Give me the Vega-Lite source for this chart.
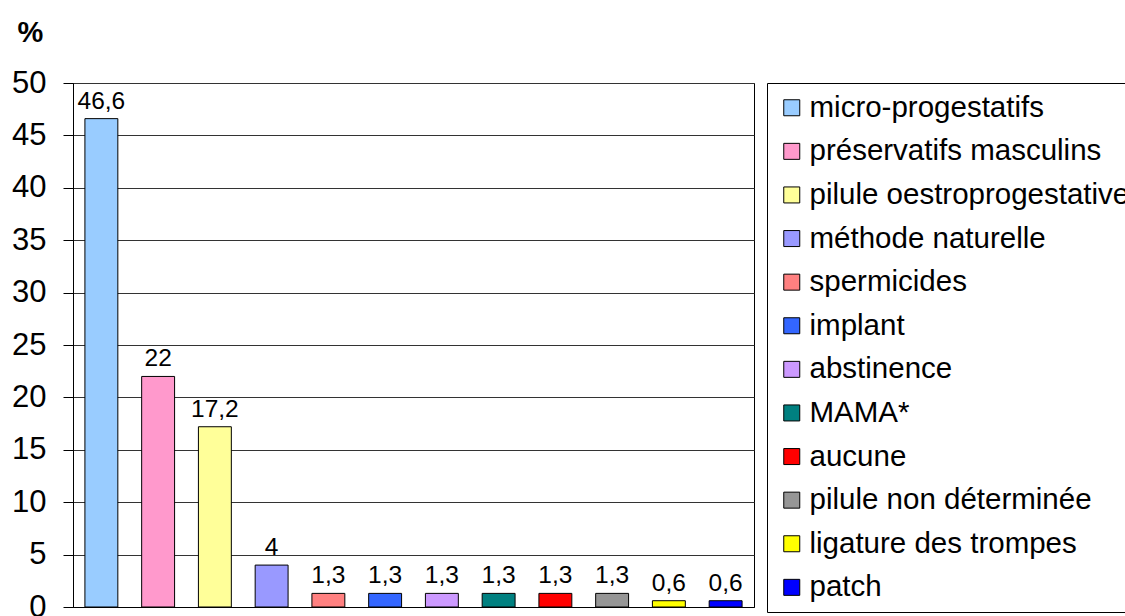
{
  "$schema": "https://vega.github.io/schema/vega-lite/v6.json",
  "autosize": "none",
  "width": 681,
  "height": 524,
  "padding": {"left": 73, "top": 83, "right": 371, "bottom": 9},
  "background": "white",
  "config": {
    "font": "Liberation Sans",
    "view": {"stroke": "black", "strokeWidth": 1},
    "locale": {"number": {"decimal": ",", "thousands": " ", "grouping": [3], "currency": ["", " €"]}}
  },
  "data": {
    "values": [
      {"methode": "micro-progestatifs", "pct": 46.6},
      {"methode": "préservatifs masculins", "pct": 22},
      {"methode": "pilule oestroprogestative", "pct": 17.2},
      {"methode": "méthode naturelle", "pct": 4},
      {"methode": "spermicides", "pct": 1.3},
      {"methode": "implant", "pct": 1.3},
      {"methode": "abstinence", "pct": 1.3},
      {"methode": "MAMA*", "pct": 1.3},
      {"methode": "aucune", "pct": 1.3},
      {"methode": "pilule non déterminée", "pct": 1.3},
      {"methode": "ligature des trompes", "pct": 0.6},
      {"methode": "patch", "pct": 0.6}
    ]
  },
  "encoding": {
    "x": {
      "field": "methode",
      "type": "nominal",
      "sort": null,
      "scale": {"paddingInner": 0.42, "paddingOuter": 0.21},
      "axis": {"labels": false, "ticks": false, "title": null, "domainColor": "black", "domainWidth": 1}
    },
    "y": {
      "field": "pct",
      "type": "quantitative",
      "scale": {"domain": [0, 50], "nice": false},
      "axis": {
        "values": [0, 5, 10, 15, 20, 25, 30, 35, 40, 45, 50],
        "grid": true,
        "gridColor": "#333333",
        "gridOpacity": 1,
        "gridWidth": 1,
        "domainColor": "black",
        "tickColor": "black",
        "tickSize": 10,
        "labelFontSize": 31,
        "labelColor": "black",
        "labelPadding": 17,
        "title": "%",
        "titleAngle": 0,
        "titleFontSize": 29,
        "titleFontWeight": "bold",
        "titleColor": "black",
        "titleAlign": "center",
        "titleBaseline": "alphabetic",
        "titleX": -43,
        "titleY": -42
      }
    }
  },
  "layer": [
    {
      "mark": {"type": "bar", "stroke": "black", "strokeWidth": 1},
      "encoding": {
        "color": {
          "field": "methode",
          "type": "nominal",
          "scale": {
            "domain": ["micro-progestatifs", "préservatifs masculins", "pilule oestroprogestative", "méthode naturelle", "spermicides", "implant", "abstinence", "MAMA*", "aucune", "pilule non déterminée", "ligature des trompes", "patch"],
            "range": ["#99ccff", "#ff99cc", "#ffff99", "#9999ff", "#ff8080", "#3366ff", "#cc99ff", "#008080", "#ff0000", "#969696", "#ffff00", "#0000ff"]
          },
          "legend": {
            "orient": "none",
            "legendX": 694,
            "legendY": 0,
            "title": null,
            "strokeColor": "black",
            "fillColor": "white",
            "padding": 10,
            "symbolType": "square",
            "symbolSize": 256,
            "symbolStrokeColor": "black",
            "symbolStrokeWidth": 1,
            "labelFontSize": 29.5,
            "labelColor": "black",
            "labelOffset": 3,
            "labelLimit": 1000,
            "rowPadding": 12.6
          }
        }
      }
    },
    {
      "mark": {"type": "text", "baseline": "bottom", "dy": -5, "fontSize": 24.5, "color": "black"},
      "encoding": {
        "text": {"field": "pct", "type": "quantitative"}
      }
    }
  ]
}
